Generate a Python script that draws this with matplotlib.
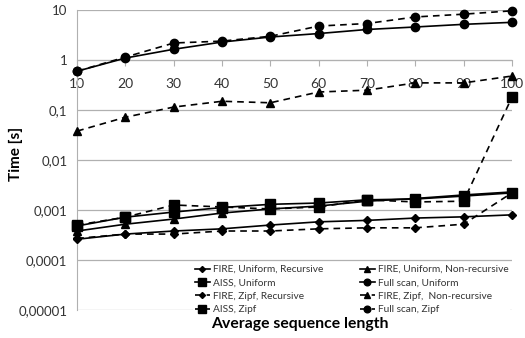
import numpy as np
import matplotlib
matplotlib.use("Agg")
import matplotlib.pyplot as plt
from matplotlib.ticker import FixedLocator, FixedFormatter

plt.rcParams['font.family'] = ['Lato', 'DejaVu Sans']

x = [10, 20, 30, 40, 50, 60, 70, 80, 90, 100]

fire_uni_rec = [0.00026, 0.00033, 0.00038, 0.00042, 0.0005, 0.00058, 0.00062, 0.00069, 0.00073, 0.0008]
aiss_uni = [0.00048, 0.00072, 0.00091, 0.00112, 0.0013, 0.00138, 0.0016, 0.00166, 0.0019, 0.0022]
fire_zipf_rec = [0.00027, 0.00033, 0.00033, 0.00038, 0.00038, 0.00042, 0.00044, 0.00044, 0.00052, 0.0022]
aiss_zipf = [0.0005, 0.00072, 0.00126, 0.00115, 0.00105, 0.00115, 0.0016, 0.00145, 0.0015, 0.18]
fire_uni_nonrec = [0.00038, 0.00052, 0.00066, 0.00087, 0.00105, 0.0012, 0.0015, 0.0017, 0.002, 0.0023]
full_uni = [0.6, 1.1, 1.65, 2.3, 2.9, 3.4, 4.1, 4.6, 5.2, 5.7]
fire_zipf_nonrec = [0.038, 0.072, 0.115, 0.15, 0.14, 0.23, 0.25, 0.35, 0.35, 0.48]
full_zipf = [0.6, 1.15, 2.2, 2.4, 3.0, 4.8, 5.4, 7.3, 8.3, 9.7]

series = [
    ("FIRE, Uniform, Recursive", fire_uni_rec, "-", "D", 3.8),
    ("AISS, Uniform", aiss_uni, "-", "s", 6.5),
    ("FIRE, Zipf, Recursive", fire_zipf_rec, "--", "D", 3.8),
    ("AISS, Zipf", aiss_zipf, "--", "s", 6.5),
    ("FIRE, Uniform, Non-recursive", fire_uni_nonrec, "-", "^", 5.5),
    ("Full scan, Uniform", full_uni, "-", "o", 6),
    ("FIRE, Zipf,  Non-recursive", fire_zipf_nonrec, "--", "^", 5.5),
    ("Full scan, Zipf", full_zipf, "--", "o", 6),
]

fig = plt.figure(figsize=(5.25, 3.38), dpi=100)
ax = fig.add_axes([0.147, 0.083, 0.828, 0.887])

for name, vals, ls, mk, ms in series:
    line, = ax.plot(x, vals, color="black", linestyle=ls, marker=mk, markersize=ms,
                    linewidth=1.2, label=name, clip_on=False, zorder=3)
    if ls == "--":
        line.set_dashes((4, 3))

ax.set_yscale("log")
ax.set_ylim(1e-5, 10)
ax.set_xlim(10, 100)

yt = [1e-5, 1e-4, 1e-3, 1e-2, 1e-1, 1, 10]
ax.yaxis.set_major_locator(FixedLocator(yt))
ax.yaxis.set_major_formatter(FixedFormatter(["0,00001", "0,0001", "0,001", "0,01", "0,1", "1", "10"]))
ax.yaxis.set_minor_locator(FixedLocator([]))
ax.grid(axis="y", color="#b0b0b0", linewidth=0.9)
ax.set_axisbelow(True)

ax.set_xticks(x)
ax.spines["bottom"].set_position(("data", 1))
ax.spines["bottom"].set_color("#b0b0b0")
ax.spines["left"].set_color("#b0b0b0")
ax.spines["top"].set_visible(False)
ax.spines["right"].set_visible(False)
ax.tick_params(axis="x", direction="out", length=4, color="#b0b0b0", labelsize=10,
               labelcolor="#333333", pad=9)
ax.tick_params(axis="y", length=0, labelsize=9.5, labelcolor="#333333", pad=7)

ax.set_ylabel("Time [s]", fontsize=11, fontweight="bold")
ax.yaxis.set_label_coords(-0.124, 0.52)
fig.text(0.571, 0.02, "Average sequence length", fontsize=11.3, fontweight="bold",
         ha="center", va="bottom")

leg = ax.legend(loc="upper left", bbox_to_anchor=(0.255, 0.172), ncol=2, fontsize=7.3,
                frameon=True, fancybox=False, edgecolor="none", facecolor="white",
                framealpha=1, handlelength=1.5, handletextpad=0.3, columnspacing=3.6,
                labelspacing=0.42, borderpad=0.15, markerscale=0.8)
for t in leg.get_texts():
    t.set_color("#333333")

fig.savefig("out.png", dpi=100)
